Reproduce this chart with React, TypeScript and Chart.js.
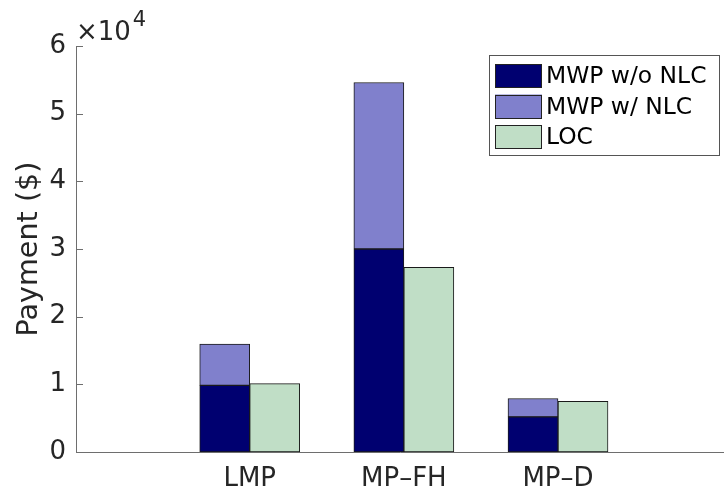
import React, { useEffect, useRef } from "react";
import { Chart, registerables } from "chart.js";

Chart.register(...registerables);

// Market-clearing methods along the x axis
const categories = ["LMP", "MP\u2013FH", "MP\u2013D"];
const categoryPositions = [1, 2, 3];

// Payments in $ (stacked: base MWP plus the extra paid when NLC applies)
const mwpWithoutNlc = [9850, 30000, 5200];
const mwpNlcExtra = [6100, 24600, 2700];
const loc = [10100, 27300, 7500];

// Y axis: 0 … 6 ×10^4
const yTickValues = [0, 10000, 20000, 30000, 40000, 50000, 60000];
const yScaleFactor = 10000;

const seriesLabels = ["MWP w/o NLC", "MWP w/ NLC", "LOC"];
const seriesColors = ["#000070", "#8080cc", "#c0dec6"];

const FONT = '"DejaVu Sans", "Liberation Sans", sans-serif';
const TEXT_COLOR = "#262626";
const AXIS_COLOR = "#6e6e6e";

const decorations = {
  id: "decorations",
  afterDatasetsDraw(chart: any) {
    const { ctx, chartArea } = chart;
    const { left, right, top, bottom } = chartArea;
    const y = chart.scales.y;
    ctx.save();
    ctx.strokeStyle = AXIS_COLOR;
    ctx.lineWidth = 1;
    ctx.beginPath();
    ctx.moveTo(left + 0.5, top);
    ctx.lineTo(left + 0.5, bottom + 0.5);
    ctx.lineTo(right, bottom + 0.5);
    ctx.stroke();
    // inward tick marks on the value axis
    ctx.beginPath();
    yTickValues.forEach((v) => {
      const py = Math.round(y.getPixelForValue(v)) + 0.5;
      ctx.moveTo(left, py);
      ctx.lineTo(left + 7, py);
    });
    ctx.stroke();

    // exponent marker
    ctx.fillStyle = TEXT_COLOR;
    ctx.textAlign = "left";
    ctx.textBaseline = "alphabetic";
    ctx.font = `26px ${FONT}`;
    ctx.fillText("\u00d710", left, 40);
    const w = ctx.measureText("\u00d710").width;
    ctx.font = `21px ${FONT}`;
    ctx.fillText("4", left + w + 2, 26);

    // axis title
    ctx.save();
    ctx.translate(36.5, (top + bottom) / 2);
    ctx.rotate(-Math.PI / 2);
    ctx.font = `28.6px ${FONT}`;
    ctx.textAlign = "center";
    ctx.fillText("Payment ($)", 0, 0);
    ctx.restore();

    // legend
    const lx = 489.5, ly = 55.5, lw = 230, lh = 100;
    ctx.fillStyle = "#ffffff";
    ctx.fillRect(lx, ly, lw, lh);
    ctx.strokeStyle = "#555555";
    ctx.strokeRect(lx, ly, lw, lh);
    ctx.font = `23.4px ${FONT}`;
    ctx.textBaseline = "middle";
    seriesLabels.forEach((label, i) => {
      const sy = 64 + i * 30.5;
      ctx.fillStyle = seriesColors[i];
      ctx.fillRect(495, sy, 47, 24);
      ctx.strokeStyle = "#222222";
      ctx.strokeRect(495.5, Math.round(sy) + 0.5, 46, 23);
      ctx.fillStyle = "#000000";
      ctx.fillText(label, 546, sy + 13);
    });
    ctx.restore();
  },
};

export default function App() {
  const canvasRef = useRef<HTMLCanvasElement | null>(null);

  useEffect(() => {
    document.body.style.margin = "0";
    const canvas = canvasRef.current;
    if (!canvas) return;
    const toPoints = (vals: number[]) =>
      vals.map((v, i) => ({ x: categoryPositions[i], y: v }));

    const chart = new Chart(canvas, {
      type: "bar",
      data: {
        datasets: [
          {
            label: seriesLabels[0],
            data: toPoints(mwpWithoutNlc),
            backgroundColor: seriesColors[0],
            stack: "mwp",
          },
          {
            label: seriesLabels[1],
            data: toPoints(mwpNlcExtra),
            backgroundColor: seriesColors[1],
            stack: "mwp",
          },
          {
            label: seriesLabels[2],
            data: toPoints(loc),
            backgroundColor: seriesColors[2],
            stack: "loc",
          },
        ],
      },
      options: {
        responsive: false,
        animation: false,
        devicePixelRatio: 1,
        layout: { padding: { top: 46, left: 0, right: 0, bottom: 0 } },
        datasets: {
          bar: {
            barThickness: 50,
            borderWidth: 1,
            borderColor: "#1a1a1a",
            borderSkipped: false,
          },
        },
        plugins: {
          legend: { display: false },
          tooltip: { enabled: false },
        },
        scales: {
          x: {
            type: "linear",
            offset: false,
            min: -0.127,
            max: 4.077,
            stacked: true,
            grid: { display: false, drawTicks: false, tickLength: 0, offset: false },
            border: { display: false },
            afterBuildTicks: (scale: any) => {
              scale.ticks = categoryPositions.map((v) => ({ value: v }));
            },
            afterFit: (scale: any) => {
              scale.height = 44;
            },
            ticks: {
              padding: 12,
              color: TEXT_COLOR,
              font: { family: FONT, size: 26 },
              maxRotation: 0,
              autoSkip: false,
              callback: (v: any) => categories[categoryPositions.indexOf(Number(v))] ?? "",
            },
          },
          y: {
            type: "linear",
            min: 0,
            max: 60000,
            stacked: true,
            grid: { display: false, drawTicks: false, tickLength: 0 },
            border: { display: false },
            afterBuildTicks: (scale: any) => {
              scale.ticks = yTickValues.map((v) => ({ value: v }));
            },
            afterFit: (scale: any) => {
              scale.width = 76;
            },
            ticks: {
              padding: 10,
              color: TEXT_COLOR,
              font: { family: FONT, size: 26 },
              callback: (v: any) => String(Number(v) / yScaleFactor),
            },
          },
        },
      },
      plugins: [decorations],
    });
    return () => chart.destroy();
  }, []);

  return (
    <div style={{ position: "absolute", left: 0, top: 0, width: 724, height: 496, background: "#fff" }}>
      <canvas ref={canvasRef} width={724} height={496} />
    </div>
  );
}
